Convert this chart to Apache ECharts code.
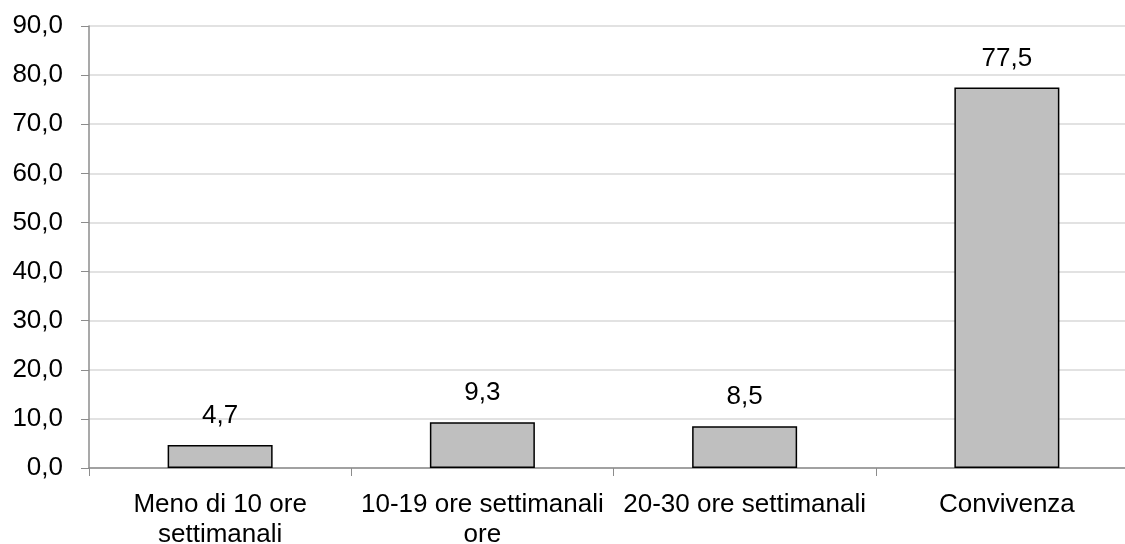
<!DOCTYPE html>
<html>
<head>
<meta charset="utf-8">
<script src="https://cdn.jsdelivr.net/npm/echarts@6/dist/echarts.min.js"></script>
<style>
  html, body { margin: 0; padding: 0; background: #ffffff; }
  #chart { width: 1125px; height: 544px; }
</style>
</head>
<body>
<div id="chart"></div>
<script>
// Categorie di assistenza e quote percentuali
const categories = [
  'Meno di 10 ore\nsettimanali',
  '10-19 ore settimanali\nore',
  '20-30 ore settimanali',
  'Convivenza'
];
const values = [4.7, 9.3, 8.5, 77.5];
const yTicks = { min: 0, max: 90, interval: 10 };

const FONT = '"Liberation Sans", Arial, Helvetica, sans-serif';
const fmt = v => Number(v).toFixed(1).replace('.', ',');

const chart = echarts.init(document.getElementById('chart'), null, { renderer: 'canvas' });
chart.setOption({
  animation: false,
  backgroundColor: '#ffffff',
  // the last category band runs past the right edge of the canvas
  grid: { left: 89, width: 1049, top: 26, height: 442, containLabel: false, outerBoundsMode: 'none' },
  xAxis: {
    type: 'category',
    data: categories,
    boundaryGap: true,
    axisLine: { show: true, lineStyle: { color: '#8c8c8c', width: 1.5 } },
    axisTick: { show: true, length: 8, alignWithLabel: false, lineStyle: { color: '#8c8c8c', width: 1 } },
    axisLabel: {
      interval: 0,
      margin: 22,
      color: '#000000',
      fontFamily: FONT,
      fontSize: 26,
      lineHeight: 30
    },
    splitLine: { show: false }
  },
  yAxis: {
    type: 'value',
    min: yTicks.min,
    max: yTicks.max,
    interval: yTicks.interval,
    axisLine: { show: true, lineStyle: { color: '#8c8c8c', width: 1.5 } },
    axisTick: { show: true, length: 8, lineStyle: { color: '#8c8c8c', width: 1 } },
    axisLabel: {
      margin: 26,
      color: '#000000',
      fontFamily: FONT,
      fontSize: 26,
      formatter: fmt
    },
    splitLine: { show: true, lineStyle: { color: '#d9d9d9', width: 1.5 } }
  },
  series: [{
    type: 'bar',
    data: values,
    barWidth: 105,
    itemStyle: { color: '#bfbfbf', borderColor: '#000000', borderWidth: 1.5 },
    label: {
      show: true,
      position: 'top',
      distance: 14,
      color: '#000000',
      fontFamily: FONT,
      fontSize: 26,
      lineHeight: 30,
      formatter: p => fmt(p.value)
    }
  }]
});
</script>
</body>
</html>
